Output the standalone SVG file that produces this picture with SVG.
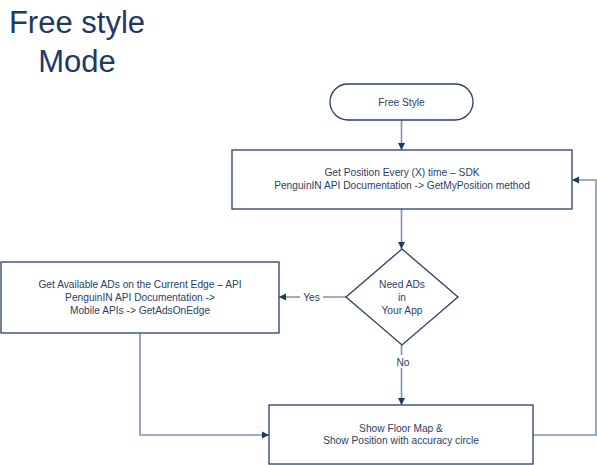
<svg xmlns="http://www.w3.org/2000/svg" width="597" height="465" viewBox="0 0 597 465">
<defs>
<marker id="arr" markerWidth="8" markerHeight="8" refX="7" refY="4" orient="auto" markerUnits="userSpaceOnUse">
<path d="M0,0.5 L7,4 L0,7.5 Z" fill="#1f3864"/>
</marker>
<style>
.node{fill:#fff;stroke:#2a3f66;stroke-width:1.3}
.t{font-family:"Liberation Sans",Arial,sans-serif;font-size:10.2px;fill:#2c3e66;text-anchor:middle}
.title{font-family:"Liberation Sans",Arial,sans-serif;font-size:31px;fill:#1f3864;text-anchor:middle}
.c{fill:none;stroke:#8193ab;stroke-width:1.6}
.lbl{fill:#fff}
</style>
</defs>
<rect width="597" height="465" fill="#fff"/>
<g id="title">
<text class="title" x="77" y="33">Free style</text>
<text class="title" x="77" y="72">Mode</text>
</g>
<g id="connectors">
<line class="c" x1="401.5" y1="120" x2="401.5" y2="150" marker-end="url(#arr)"/>
<line class="c" x1="401.5" y1="209" x2="401.5" y2="249" marker-end="url(#arr)"/>
<line class="c" x1="346" y1="297" x2="279" y2="297" marker-end="url(#arr)"/>
<line class="c" x1="401.5" y1="345" x2="401.5" y2="405" marker-end="url(#arr)"/>
<polyline class="c" points="140,333 140,435 269,435" marker-end="url(#arr)"/>
<polyline class="c" points="533,435 596,435 596,180 572,180" marker-end="url(#arr)"/>
<rect class="lbl" x="300" y="290" width="23" height="13"/>
<text class="t" x="311.5" y="301">Yes</text>
<rect class="lbl" x="394" y="355" width="17" height="13"/>
<text class="t" x="403" y="366">No</text>
</g>
<g id="start">
<rect class="node" x="330" y="84" width="143" height="36" rx="18" ry="18"/>
<text class="t" x="401.5" y="105.5">Free Style</text>
</g>
<g id="getPosition">
<rect class="node" x="232" y="150" width="340" height="59"/>
<text class="t" x="402" y="175.5">Get Position Every (X) time – SDK</text>
<text class="t" x="402" y="189">PenguinIN API Documentation -&gt; GetMyPosition method</text>
</g>
<g id="decision">
<polygon class="node" points="402,249 458,297 402,345 346,297"/>
<text class="t" x="402" y="288">Need ADs</text>
<text class="t" x="402" y="301">in</text>
<text class="t" x="402" y="314">Your App</text>
</g>
<g id="getAds">
<rect class="node" x="1" y="262" width="278" height="71"/>
<text class="t" x="140" y="288">Get Available ADs on the Current Edge – API</text>
<text class="t" x="140" y="301">PenguinIN API Documentation -&gt;</text>
<text class="t" x="140" y="314">Mobile APIs -&gt; GetAdsOnEdge</text>
</g>
<g id="showMap">
<rect class="node" x="269" y="405" width="264" height="59"/>
<text class="t" x="401" y="431.5">Show Floor Map &amp;</text>
<text class="t" x="401" y="444">Show Position with accuracy circle</text>
</g>
</svg>
